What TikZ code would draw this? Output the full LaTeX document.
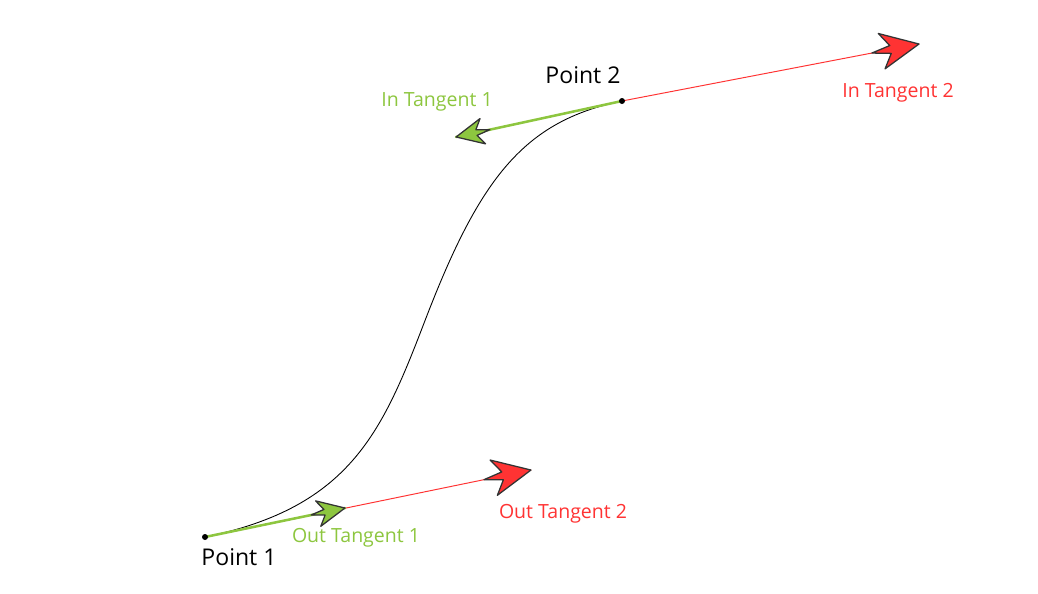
\documentclass[tikz,border=0pt]{standalone}
\usepackage{fontspec}
\setmainfont{Open Sans}
\usetikzlibrary{decorations.markings}
\definecolor{tanred}{RGB}{255,51,51}
\definecolor{tangreen}{RGB}{141,198,63}
\definecolor{headline}{RGB}{51,51,51}
\tikzset{
  tanhead/.style 2 args={postaction={decorate},
    decoration={markings, mark=at position 1 with {
        \filldraw[fill=#1, draw=headline, line width=0.65pt, line join=round, scale=#2]
        (0,0) -- (-38,18) -- (-29,4) -- (-48,0) -- (-29,-4) -- (-38,-18) -- cycle;}}},
  redtan/.style={draw=tanred, line width=0.5pt, tanhead={tanred}{1}},
  greentan/.style={draw=tangreen, line width=1.3pt, tanhead={tangreen}{0.72}},
  ptlabel/.style={font=\fontsize{11.8}{14}\selectfont},
  tanlabel/.style={font=\fontsize{10}{12}\selectfont}
}
\begin{document}
\begin{tikzpicture}[x=0.018cm, y=-0.018cm, line cap=round]
	\useasboundingbox (0,0) rectangle (1038,593);
	\path (205,537) coordinate (p1)
	(622,101) coordinate (p2)
	(426,318) coordinate (m)
	(345,508) coordinate (ot1)
	(531,470) coordinate (ot2)
	(456,137) coordinate (it1)
	(919,44) coordinate (it2);
	% the curve between the two points
	\draw[line width=0.45pt] (p1) .. controls +(147,-30) and +(-43,112) .. (m)
	.. controls +(54,-140) and +(-98,20) .. (p2);
	\draw[redtan] (p1) -- (ot2);
	\draw[redtan] (p2) -- (it2);
	\draw[greentan] (p1) -- (ot1);
	\draw[greentan] (p2) -- (it1);
	\fill (p1) circle (3) (p2) circle (3);
	% labels
	\node[ptlabel] (lp1) at (239,557) {Point 1};
	\node[ptlabel] (lp2) at (583,75) {Point 2};
	\node[tanlabel, text=tangreen] (lot1) at (356,538) {Out Tangent 1};
	\node[tanlabel, text=tanred] (lot2) at (563,514) {Out Tangent 2};
	\node[tanlabel, text=tangreen] (lit1) at (437,102) {In Tangent 1};
	\node[tanlabel, text=tanred] (lit2) at (898,93) {In Tangent 2};
\end{tikzpicture}
\end{document}
